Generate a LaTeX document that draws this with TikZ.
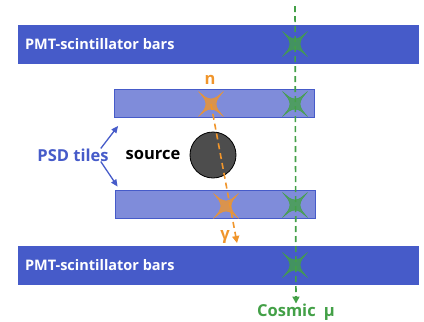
\documentclass[tikz,border=0pt]{standalone}
\usepackage{fontspec}
\setmainfont{Open Sans}
\usetikzlibrary{shapes.geometric,arrows.meta,positioning}

\definecolor{barblue}{HTML}{465BC9}
\definecolor{tileblue}{HTML}{7F8CDA}
\definecolor{muongreen}{HTML}{43A047}
\definecolor{gammaorange}{HTML}{F0952B}
\definecolor{srcgrey}{HTML}{4D4D4D}

\tikzset{
  bar/.style={fill=barblue, minimum width=401pt, minimum height=39pt, inner sep=0pt},
  tile/.style={draw=barblue, line width=0.8pt, fill=tileblue, minimum width=200pt, minimum height=28pt, inner sep=0pt},
  lbl/.style={font=\bfseries\fontsize{16.5}{18}\selectfont, inner sep=0pt},
  bartext/.style={font=\bfseries\fontsize{14.5}{16}\selectfont, inner sep=0pt, text=white, anchor=west},
  hit/.style={fill=#1, fill opacity=0.8, draw=#1, line width=0.4pt, line join=miter},
  track/.style={draw=#1, line width=1.6pt, dash pattern=on 6pt off 4pt, -{Triangle[length=7pt,width=7pt]}},
  psdarrow/.style={barblue, line width=1.3pt, -{Triangle[length=7pt,width=6pt]}}
}

% four-pointed hit mark: name, colour, position
\newcommand{\hitmark}[3]{%
  \coordinate (#1) at (#3);
  \draw[hit=#2, shift={(#1)}] (12.5,12.5) .. controls (5,6) .. (0,5) .. controls (-5,6) .. (-12.5,12.5)
    .. controls (-6,5) .. (-5,0) .. controls (-6,-5) .. (-12.5,-12.5)
    .. controls (-5,-6) .. (0,-5) .. controls (5,-6) .. (12.5,-12.5)
    .. controls (6,-5) .. (5,0) .. controls (6,5) .. cycle;}

\begin{document}
\begin{tikzpicture}[x=1pt, y=-1pt]
\useasboundingbox (0,0) rectangle (424,322);

% detector layers
\node[bar] (topbar) at (218.5,44.5) {};
\node[bar] (botbar) at (218.5,265.5) {};
\node[tile] (tileA) at (214.5,103.5) {};
\node[tile] (tileB) at (215,204) {};
\node[bartext] at ([xshift=7pt]topbar.west) {PMT-scintillator bars};
\node[bartext] at ([xshift=7pt]botbar.west) {PMT-scintillator bars};

% source
\node[circle, draw=black, line width=0.8pt, fill=srcgrey, minimum size=46pt] (src) at (213,155) {};
\node[lbl] (srclbl) at (153,155) {source};

% PSD label
\node[lbl, text=barblue] (psd) at (73,155) {PSD tiles};
\draw[psdarrow] ([xshift=-8pt]psd.north east) -- ([xshift=4pt,yshift=-8pt]tileA.south west);
\draw[psdarrow] ([xshift=-8pt]psd.south east) -- ([xshift=3pt,yshift=3pt]tileB.north west);

% hits
\hitmark{nA}{gammaorange}{211,104}
\hitmark{gB}{gammaorange}{226,206}
\hitmark{mu1}{muongreen}{295,44}
\hitmark{mu2}{muongreen}{295,104}
\hitmark{mu3}{muongreen}{295,205}
\hitmark{mu4}{muongreen}{295,265}

% tracks
\node[lbl, text=gammaorange] (nlbl) at (210,80) {n};
\node[lbl, text=gammaorange] (glbl) at (225,237) {γ};
\coordinate (gend) at (237,243);
\draw[track=gammaorange] (nA) -- (gend);

\coordinate (mutop) at (295,6);
\node[lbl, text=muongreen] (cosmic) at (296,312) {Cosmic\enspace μ};
\draw[track=muongreen] (mutop) -- (cosmic.north);
\end{tikzpicture}
\end{document}
